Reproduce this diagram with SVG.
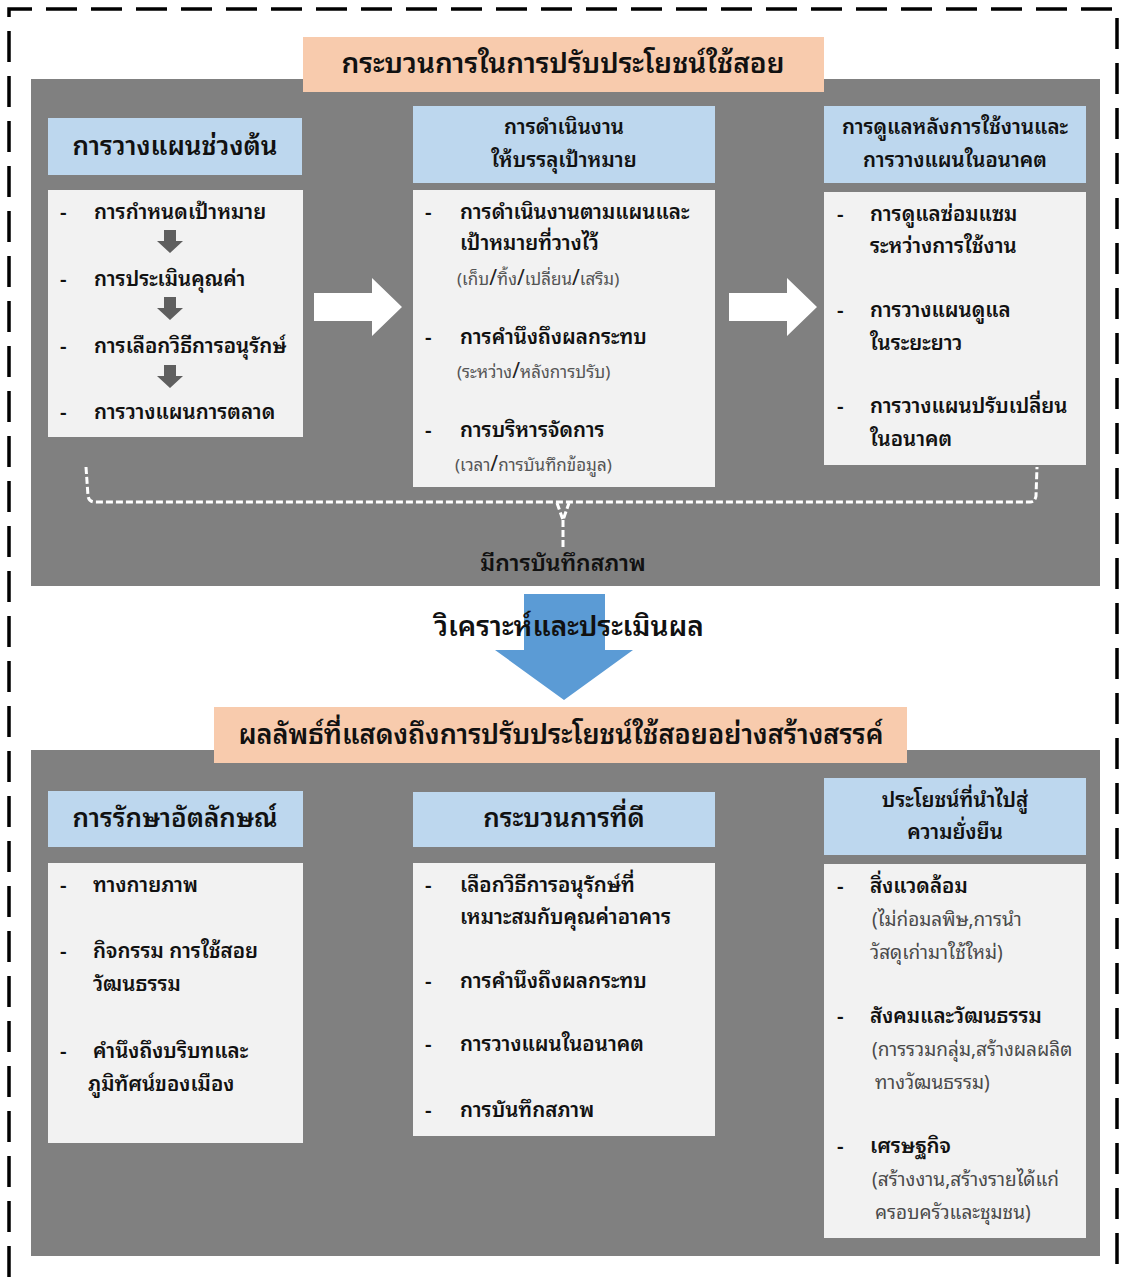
<svg xmlns="http://www.w3.org/2000/svg" xmlns:xlink="http://www.w3.org/1999/xlink" width="1121" height="1277" viewBox="0 0 1121 1277">
<style>
text{font-family:"Noto Sans Thai Looped","Noto Sans Thai UI","Noto Sans Thai","Noto Sans","DejaVu Sans",sans-serif;fill:#111}
.title{font-size:28px;font-weight:600;text-anchor:middle}
.hd{font-size:26px;font-weight:600;text-anchor:middle}
.hd2{font-size:20.5px;font-weight:600;text-anchor:middle}
.it{font-size:20.5px;font-weight:600}
.sub{font-size:17px;fill:#555}
.sub2{font-size:19px;fill:#4a4a4a}
.sl{font-size:21px;fill:#222}
.panel{fill:#808080}
.orange{fill:#f8cbad}
.blue{fill:#bdd7ee}
.body{fill:#f2f2f2}
.frame{fill:none;stroke:#000;stroke-width:3.5;stroke-dasharray:31 14}
.bracket{fill:none;stroke:#fff;stroke-width:3;stroke-dasharray:7 3}
</style>
<defs>
<path id="dn" d="M-6,0 h12 v11 h7 l-13,12 l-13,-12 h7 z" fill="#5f5f5f"/>
<path id="rt" d="M0,15 h58 v-15 l30,29 l-30,29 v-15 h-58 z" fill="#fff"/>
</defs>
<rect width="1121" height="1277" fill="#fff"/>
<!-- outer dashed frame -->
<path class="frame" d="M9,1277 V9 H1117 V1277"/>

<!-- panels -->
<rect class="panel" x="31" y="79" width="1069" height="507"/>
<rect class="panel" x="31" y="750" width="1069" height="506"/>

<g id="top-title">
<rect class="orange" x="303" y="37" width="521" height="55"/>
<text class="title" x="563" y="73">กระบวนการในการปรับประโยชน์ใช้สอย</text>
</g>

<g id="col1-top">
<rect class="blue" x="48" y="118" width="254" height="57"/>
<text class="hd" x="175" y="155">การวางแผนช่วงต้น</text>
<rect class="body" x="48" y="190" width="255" height="247"/>
<text class="it" x="60" y="219">-</text><text class="it" x="94" y="219">การกำหนดเป้าหมาย</text>
<text class="it" x="60" y="286">-</text><text class="it" x="94" y="286">การประเมินคุณค่า</text>
<text class="it" x="60" y="353">-</text><text class="it" x="94" y="353">การเลือกวิธีการอนุรักษ์</text>
<text class="it" x="60" y="419">-</text><text class="it" x="94" y="419">การวางแผนการตลาด</text>
<use xlink:href="#dn" x="170" y="230"/>
<use xlink:href="#dn" x="170" y="297"/>
<use xlink:href="#dn" x="170" y="365"/>
</g>

<g id="col2-top">
<rect class="blue" x="413" y="106" width="302" height="77"/>
<text class="hd2" x="564" y="134">การดำเนินงาน</text>
<text class="hd2" x="564" y="167">ให้บรรลุเป้าหมาย</text>
<rect class="body" x="413" y="190" width="302" height="297"/>
<text class="it" x="425" y="219">-</text><text class="it" x="460" y="219">การดำเนินงานตามแผนและ</text>
<text class="it" x="460" y="250">เป้าหมายที่วางไว้</text>
<text class="sub" x="457" y="285">(เก็บ<tspan class="sl">/</tspan>ทิ้ง<tspan class="sl">/</tspan>เปลี่ยน<tspan class="sl">/</tspan>เสริม)</text>
<text class="it" x="425" y="344">-</text><text class="it" x="460" y="344">การคำนึงถึงผลกระทบ</text>
<text class="sub" x="457" y="378">(ระหว่าง<tspan class="sl">/</tspan>หลังการปรับ)</text>
<text class="it" x="425" y="437">-</text><text class="it" x="460" y="437">การบริหารจัดการ</text>
<text class="sub" x="455" y="471">(เวลา<tspan class="sl">/</tspan>การบันทึกข้อมูล)</text>
</g>

<g id="col3-top">
<rect class="blue" x="824" y="106" width="262" height="77"/>
<text class="hd2" x="955" y="134">การดูแลหลังการใช้งานและ</text>
<text class="hd2" x="955" y="167">การวางแผนในอนาคต</text>
<rect class="body" x="824" y="192" width="262" height="273"/>
<text class="it" x="837" y="221">-</text><text class="it" x="870" y="221">การดูแลซ่อมแซม</text>
<text class="it" x="870" y="253">ระหว่างการใช้งาน</text>
<text class="it" x="837" y="317">-</text><text class="it" x="870" y="317">การวางแผนดูแล</text>
<text class="it" x="870" y="350">ในระยะยาว</text>
<text class="it" x="837" y="413">-</text><text class="it" x="870" y="413">การวางแผนปรับเปลี่ยน</text>
<text class="it" x="870" y="446">ในอนาคต</text>
</g>

<g id="connectors">
<use xlink:href="#rt" x="314" y="278"/>
<use xlink:href="#rt" x="729" y="278"/>
<path class="bracket" d="M86,467 L88,496 Q89,502 95,502 H1030 Q1035,502 1036,496 L1037,467"/>
<path class="bracket" d="M557,503 L563,520 L569,503 M563,520 V550" stroke-dasharray="none"/>
<path d="M524,594 H605 V650 H633 L564,700 L495,650 H524 Z" fill="#5b9bd5"/>
</g>

<g id="record-label">
<text class="it" x="563" y="571" style="text-anchor:middle;font-size:23px">มีการบันทึกสภาพ</text>
</g>
<g id="analyze-label">
<text class="title" x="569" y="636">วิเคราะห์และประเมินผล</text>
</g>

<g id="bottom-title">
<rect class="orange" x="214" y="707" width="693" height="56"/>
<text class="title" x="561" y="744" style="font-size:27px">ผลลัพธ์ที่แสดงถึงการปรับประโยชน์ใช้สอยอย่างสร้างสรรค์</text>
</g>

<g id="col1-bottom">
<rect class="blue" x="48" y="791" width="255" height="56"/>
<text class="hd" x="175" y="827">การรักษาอัตลักษณ์</text>
<rect class="body" x="48" y="863" width="255" height="280"/>
<text class="it" x="60" y="892">-</text><text class="it" x="93" y="892">ทางกายภาพ</text>
<text class="it" x="60" y="958">-</text><text class="it" x="93" y="958">กิจกรรม การใช้สอย</text>
<text class="it" x="93" y="991">วัฒนธรรม</text>
<text class="it" x="60" y="1058">-</text><text class="it" x="93" y="1058">คำนึงถึงบริบทและ</text>
<text class="it" x="88" y="1091">ภูมิทัศน์ของเมือง</text>
</g>

<g id="col2-bottom">
<rect class="blue" x="413" y="792" width="302" height="55"/>
<text class="hd" x="564" y="827">กระบวนการที่ดี</text>
<rect class="body" x="413" y="863" width="302" height="273"/>
<text class="it" x="425" y="892">-</text><text class="it" x="460" y="892">เลือกวิธีการอนุรักษ์ที่</text>
<text class="it" x="460" y="924">เหมาะสมกับคุณค่าอาคาร</text>
<text class="it" x="425" y="988">-</text><text class="it" x="460" y="988">การคำนึงถึงผลกระทบ</text>
<text class="it" x="425" y="1051">-</text><text class="it" x="460" y="1051">การวางแผนในอนาคต</text>
<text class="it" x="425" y="1117">-</text><text class="it" x="460" y="1117">การบันทึกสภาพ</text>
</g>

<g id="col3-bottom">
<rect class="blue" x="824" y="778" width="262" height="77"/>
<text class="hd2" x="955" y="807">ประโยชน์ที่นำไปสู่</text>
<text class="hd2" x="955" y="839">ความยั่งยืน</text>
<rect class="body" x="824" y="864" width="262" height="374"/>
<text class="it" x="837" y="893">-</text><text class="it" x="870" y="893">สิ่งแวดล้อม</text>
<text class="sub2" x="872" y="926">(ไม่ก่อมลพิษ,การนำ</text>
<text class="sub2" x="870" y="959">วัสดุเก่ามาใช้ใหม่)</text>
<text class="it" x="837" y="1023">-</text><text class="it" x="870" y="1023">สังคมและวัฒนธรรม</text>
<text class="sub2" x="872" y="1056">(การรวมกลุ่ม,สร้างผลผลิต</text>
<text class="sub2" x="875" y="1089">ทางวัฒนธรรม)</text>
<text class="it" x="837" y="1153">-</text><text class="it" x="870" y="1153">เศรษฐกิจ</text>
<text class="sub2" x="872" y="1186">(สร้างงาน,สร้างรายได้แก่</text>
<text class="sub2" x="875" y="1219">ครอบครัวและชุมชน)</text>
</g>
</svg>
